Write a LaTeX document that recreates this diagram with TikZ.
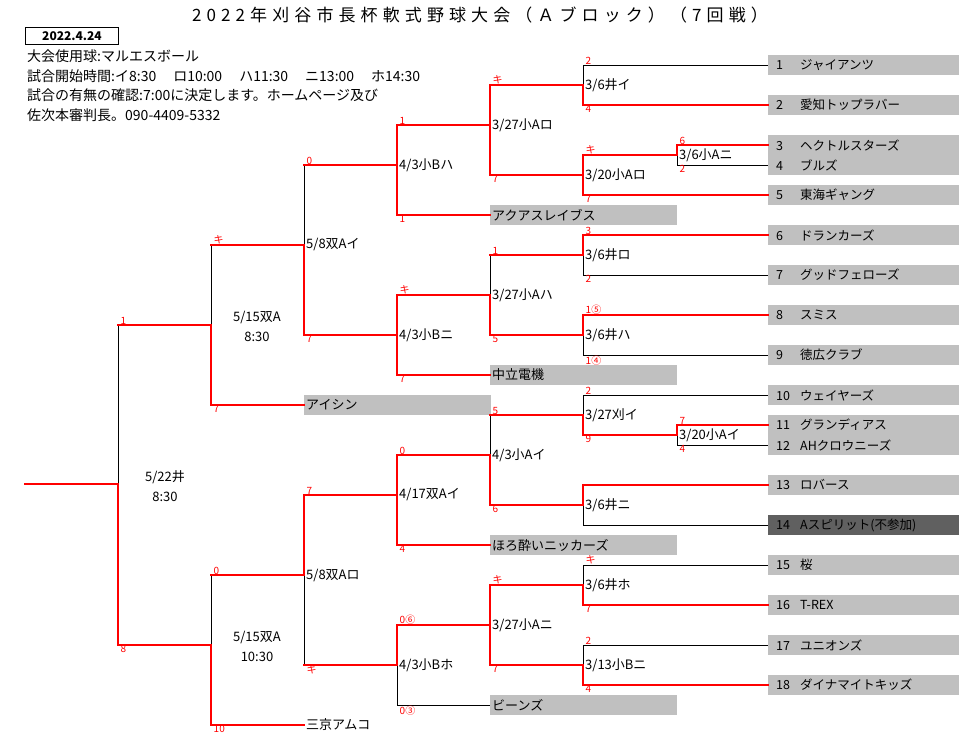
\documentclass[tikz,border=0pt]{standalone}
\usepackage{fontspec}
\setmainfont{Noto Sans CJK JP}
\newfontfamily\titlefont[LetterSpace=30]{Noto Sans CJK JP}
\usepackage{tikz}
\usetikzlibrary{positioning}
\definecolor{boxgray}{RGB}{192,192,192}
\definecolor{boxdark}{RGB}{96,96,96}
\definecolor{winred}{RGB}{255,0,0}
\newcommand{\teamno}[1]{\makebox[24pt][l]{#1}}

\begin{document}
\begin{tikzpicture}[
        x=1pt,y=-1pt,
        win/.style={draw=winred,line width=2pt,line cap=rect},
        lose/.style={draw=black,line width=0.8pt},
        teambox/.style={fill=boxgray,anchor=west,minimum height=20pt,text width=175pt,inner xsep=8pt,inner ysep=0pt,align=left,font=\fontsize{12.5}{14}\selectfont},
        outbox/.style={teambox,fill=boxdark},
        sidebox/.style={fill=boxgray,anchor=west,minimum height=20pt,text width=183pt,inner xsep=2pt,inner ysep=0pt,align=left,font=\fontsize{13}{14}\selectfont},
        game/.style={anchor=west,inner sep=0pt,xshift=2pt,font=\fontsize{13}{14}\selectfont},
        roundlbl/.style={align=center,inner sep=0pt,font=\fontsize{13}{20}\selectfont},
        scoreup/.style={anchor=south west,inner sep=0.5pt,xshift=2pt,text=winred,font=\fontsize{10}{10}\selectfont},
        scoredn/.style={scoreup,anchor=north west},
        info/.style={anchor=west,inner sep=0pt,font=\fontsize{14}{16}\selectfont}
    ]
        \useasboundingbox (0,0) rectangle (959,754);

        % header
        \node[font=\titlefont\fontsize{17}{17}\selectfont] (title) at (480,15) {2022年刈谷市長杯軟式野球大会（Ａブロック）（7回戦）};
        \node[draw,line width=1.6pt,minimum width=93pt,minimum height=17pt,inner sep=0pt,font=\bfseries\fontsize{12}{12}\selectfont] (date) at (72,36) {2022.4.24};
        \node[info] (ball) at (27,56) {大会使用球:マルエスボール};
        \node[info] (times) at (27,76) {試合開始時間:イ8:30\hspace{17pt}ロ10:00\hspace{17pt}ハ11:30\hspace{17pt}ニ13:00\hspace{17pt}ホ14:30};
        \node[info] (check) at (27,95) {試合の有無の確認:7:00に決定します。ホームページ及び};
        \node[info] (judge) at (27,115) {佐次本審判長。090-4409-5332};

        % teams
        \node[teambox] (t1) at (768,65) {\teamno{1}ジャイアンツ};
        \node[teambox] (t2) at (768,105) {\teamno{2}愛知トップラバー};
        \node[teambox] (t3) at (768,145) {\teamno{3}ヘクトルスターズ};
        \node[teambox] (t4) at (768,165) {\teamno{4}ブルズ};
        \node[teambox] (t5) at (768,195) {\teamno{5}東海ギャング};
        \node[teambox] (t6) at (768,235) {\teamno{6}ドランカーズ};
        \node[teambox] (t7) at (768,275) {\teamno{7}グッドフェローズ};
        \node[teambox] (t8) at (768,315) {\teamno{8}スミス};
        \node[teambox] (t9) at (768,355) {\teamno{9}徳広クラブ};
        \node[teambox] (t10) at (768,395) {\teamno{10}ウェイヤーズ};
        \node[teambox] (t11) at (768,425) {\teamno{11}グランディアス};
        \node[teambox] (t12) at (768,445) {\teamno{12}AHクロウニーズ};
        \node[teambox] (t13) at (768,485) {\teamno{13}ロバース};
        \node[outbox] (t14) at (768,525) {\teamno{14}Aスピリット(不参加)};
        \node[teambox] (t15) at (768,565) {\teamno{15}桜};
        \node[teambox] (t16) at (768,605) {\teamno{16}T-REX};
        \node[teambox] (t17) at (768,645) {\teamno{17}ユニオンズ};
        \node[teambox] (t18) at (768,685) {\teamno{18}ダイナマイトキッズ};

        \node[sidebox] (aqua) at (490,215) {アクアスレイブス};
        \node[sidebox] (chuo) at (490,375) {中立電機};
        \node[sidebox] (horo) at (490,545) {ほろ酔いニッカーズ};
        \node[sidebox] (beans) at (490,705) {ビーンズ};
        \node[sidebox] (aisin) at (304,405) {アイシン};
        \node[sidebox,fill=none] (sankyo) at (304,725) {三京アムコ};

        % bracket corners: top, bottom, middle of each game
        \coordinate (r1at) at (677,145); \coordinate (r1ab) at (677,165); \coordinate (r1am) at (677,155);
        \coordinate (r1bt) at (677,425); \coordinate (r1bb) at (677,445); \coordinate (r1bm) at (677,435);
        \coordinate (r2at) at (583,65); \coordinate (r2ab) at (583,105); \coordinate (r2am) at (583,85);
        \coordinate (r2bt) at (583,155); \coordinate (r2bb) at (583,195); \coordinate (r2bm) at (583,175);
        \coordinate (r2ct) at (583,235); \coordinate (r2cb) at (583,275); \coordinate (r2cm) at (583,255);
        \coordinate (r2dt) at (583,315); \coordinate (r2db) at (583,355); \coordinate (r2dm) at (583,335);
        \coordinate (r2et) at (583,395); \coordinate (r2eb) at (583,435); \coordinate (r2em) at (583,415);
        \coordinate (r2ft) at (583,485); \coordinate (r2fb) at (583,525); \coordinate (r2fm) at (583,505);
        \coordinate (r2gt) at (583,565); \coordinate (r2gb) at (583,605); \coordinate (r2gm) at (583,585);
        \coordinate (r2ht) at (583,645); \coordinate (r2hb) at (583,685); \coordinate (r2hm) at (583,665);
        \coordinate (r3at) at (490,85); \coordinate (r3ab) at (490,175); \coordinate (r3am) at (490,125);
        \coordinate (r3bt) at (490,255); \coordinate (r3bb) at (490,335); \coordinate (r3bm) at (490,295);
        \coordinate (r3ct) at (490,415); \coordinate (r3cb) at (490,505); \coordinate (r3cm) at (490,455);
        \coordinate (r3dt) at (490,585); \coordinate (r3db) at (490,665); \coordinate (r3dm) at (490,625);
        \coordinate (r4at) at (397,125); \coordinate (r4ab) at (397,215); \coordinate (r4am) at (397,165);
        \coordinate (r4bt) at (397,295); \coordinate (r4bb) at (397,375); \coordinate (r4bm) at (397,335);
        \coordinate (r4ct) at (397,455); \coordinate (r4cb) at (397,545); \coordinate (r4cm) at (397,495);
        \coordinate (r4dt) at (397,625); \coordinate (r4db) at (397,705); \coordinate (r4dm) at (397,665);
        \coordinate (r5at) at (304,165); \coordinate (r5ab) at (304,335); \coordinate (r5am) at (304,245);
        \coordinate (r5bt) at (304,495); \coordinate (r5bb) at (304,665); \coordinate (r5bm) at (304,575);
        \coordinate (r6at) at (211,245); \coordinate (r6ab) at (211,405); \coordinate (r6am) at (211,325);
        \coordinate (r6bt) at (211,575); \coordinate (r6bb) at (211,725); \coordinate (r6bm) at (211,645);
        \coordinate (fint) at (118,325); \coordinate (finb) at (118,645); \coordinate (finm) at (118,484);
        \coordinate (champ) at (25,484);

        % first round
        \draw[win] (r1am) -- (r1at) -- (t3.west);
        \draw[lose] (r1am) -- (r1ab) -- (t4.west);
        \draw[win] (r1bm) -- (r1bt) -- (t11.west);
        \draw[lose] (r1bm) -- (r1bb) -- (t12.west);

        \draw[lose] (r2am) -- (r2at) -- (t1.west);
        \draw[win] (r2am) -- (r2ab) -- (t2.west);
        \draw[win] (r2bm) -- (r2bt) -- (r1am);
        \draw[win] (r2bm) -- (r2bb) -- (t5.west);
        \draw[win] (r2cm) -- (r2ct) -- (t6.west);
        \draw[lose] (r2cm) -- (r2cb) -- (t7.west);
        \draw[win] (r2dm) -- (r2dt) -- (t8.west);
        \draw[lose] (r2dm) -- (r2db) -- (t9.west);
        \draw[lose] (r2em) -- (r2et) -- (t10.west);
        \draw[win] (r2em) -- (r2eb) -- (r1bm);
        \draw[win] (r2fm) -- (r2ft) -- (t13.west);
        \draw[lose] (r2fm) -- (r2fb) -- (t14.west);
        \draw[lose] (r2gm) -- (r2gt) -- (t15.west);
        \draw[win] (r2gm) -- (r2gb) -- (t16.west);
        \draw[lose] (r2hm) -- (r2ht) -- (t17.west);
        \draw[win] (r2hm) -- (r2hb) -- (t18.west);

        \draw[win] (r3am) -- (r3at) -- (r2am);
        \draw[win] (r3am) -- (r3ab) -- (r2bm);
        \draw[lose] (r3bm) -- (r3bt);
        \draw[win] (r3bt) -- (r2cm);
        \draw[win] (r3bm) -- (r3bb) -- (r2dm);
        \draw[lose] (r3cm) -- (r3ct);
        \draw[win] (r3ct) -- (r2em);
        \draw[win] (r3cm) -- (r3cb) -- (r2fm);
        \draw[win] (r3dm) -- (r3dt) -- (r2gm);
        \draw[win] (r3dm) -- (r3db) -- (r2hm);

        \draw[win] (r4am) -- (r4at) -- (r3am);
        \draw[win] (r4am) -- (r4ab) -- (aqua.west);
        \draw[win] (r4bm) -- (r4bt) -- (r3bm);
        \draw[win] (r4bm) -- (r4bb) -- (chuo.west);
        \draw[win] (r4cm) -- (r4ct) -- (r3cm);
        \draw[win] (r4cm) -- (r4cb) -- (horo.west);
        \draw[win] (r4dm) -- (r4dt) -- (r3dm);
        \draw[lose] (r4dm) -- (r4db) -- (beans.west);

        \draw[lose] (r5am) -- (r5at);
        \draw[win] (r5at) -- (r4am);
        \draw[win] (r5am) -- (r5ab) -- (r4bm);
        \draw[win] (r5bm) -- (r5bt) -- (r4cm);
        \draw[lose] (r5bm) -- (r5bb);
        \draw[win] (r5bb) -- (r4dm);

        \draw[lose] (r6am) -- (r6at);
        \draw[win] (r6at) -- (r5am);
        \draw[win] (r6am) -- (r6ab) -- (aisin.west);
        \draw[lose] (r6bm) -- (r6bt);
        \draw[win] (r6bt) -- (r5bm);
        \draw[win] (r6bm) -- (r6bb) -- (sankyo.west);

        \draw[lose] (finm) -- (fint);
        \draw[win] (fint) -- (r6am);
        \draw[win] (finm) -- (finb) -- (r6bm);
        \draw[win] (champ) -- (finm);

        % game labels
        \node[game] (r1an) at (r1am) {3/6小Aニ};
        \node[game] (r1bn) at (r1bm) {3/20小Aイ};
        \node[game] (r2an) at (r2am) {3/6井イ};
        \node[game] (r2bn) at (r2bm) {3/20小Aロ};
        \node[game] (r2cn) at (r2cm) {3/6井ロ};
        \node[game] (r2dn) at (r2dm) {3/6井ハ};
        \node[game] (r2en) at (r2em) {3/27刈イ};
        \node[game] (r2fn) at (r2fm) {3/6井ニ};
        \node[game] (r2gn) at (r2gm) {3/6井ホ};
        \node[game] (r2hn) at (r2hm) {3/13小Bニ};
        \node[game] (r3an) at (r3am) {3/27小Aロ};
        \node[game] (r3bn) at (r3bm) {3/27小Aハ};
        \node[game] (r3cn) at (r3cm) {4/3小Aイ};
        \node[game] (r3dn) at (r3dm) {3/27小Aニ};
        \node[game] (r4an) at (r4am) {4/3小Bハ};
        \node[game] (r4bn) at (r4bm) {4/3小Bニ};
        \node[game] (r4cn) at (r4cm) {4/17双Aイ};
        \node[game] (r4dn) at (r4dm) {4/3小Bホ};
        \node[game] (r5an) at (r5am) {5/8双Aイ};
        \node[game] (r5bn) at (r5bm) {5/8双Aロ};
        \node[roundlbl] (r6an) at (257,326) {5/15双A\\8:30};
        \node[roundlbl] (r6bn) at (257,646) {5/15双A\\10:30};
        \node[roundlbl] (finn) at (165,486) {5/22井\\8:30};

        % scores
        \node[scoreup] (r1au) at (r1at) {6};
        \node[scoredn] (r1ad) at (r1ab) {2};
        \node[scoreup] (r1bu) at (r1bt) {7};
        \node[scoredn] (r1bd) at (r1bb) {4};
        \node[scoreup] (r2au) at (r2at) {2};
        \node[scoredn] (r2ad) at (r2ab) {4};
        \node[scoreup] (r2bu) at (r2bt) {キ};
        \node[scoredn] (r2bd) at (r2bb) {7};
        \node[scoreup] (r2cu) at (r2ct) {3};
        \node[scoredn] (r2cd) at (r2cb) {2};
        \node[scoreup] (r2du) at (r2dt) {1⑤};
        \node[scoredn] (r2dd) at (r2db) {1④};
        \node[scoreup] (r2eu) at (r2et) {2};
        \node[scoredn] (r2ed) at (r2eb) {9};
        \node[scoreup] (r2gu) at (r2gt) {キ};
        \node[scoredn] (r2gd) at (r2gb) {7};
        \node[scoreup] (r2hu) at (r2ht) {2};
        \node[scoredn] (r2hd) at (r2hb) {4};
        \node[scoreup] (r3au) at (r3at) {キ};
        \node[scoredn] (r3ad) at (r3ab) {7};
        \node[scoreup] (r3bu) at (r3bt) {1};
        \node[scoredn] (r3bd) at (r3bb) {5};
        \node[scoreup] (r3cu) at (r3ct) {5};
        \node[scoredn] (r3cd) at (r3cb) {6};
        \node[scoreup] (r3du) at (r3dt) {キ};
        \node[scoredn] (r3dd) at (r3db) {7};
        \node[scoreup] (r4au) at (r4at) {1};
        \node[scoredn] (r4ad) at (r4ab) {1};
        \node[scoreup] (r4bu) at (r4bt) {キ};
        \node[scoredn] (r4bd) at (r4bb) {7};
        \node[scoreup] (r4cu) at (r4ct) {0};
        \node[scoredn] (r4cd) at (r4cb) {4};
        \node[scoreup] (r4du) at (r4dt) {0⑥};
        \node[scoredn] (r4dd) at (r4db) {0③};
        \node[scoreup] (r5au) at (r5at) {0};
        \node[scoredn] (r5ad) at (r5ab) {7};
        \node[scoreup] (r5bu) at (r5bt) {7};
        \node[scoredn] (r5bd) at (r5bb) {キ};
        \node[scoreup] (r6au) at (r6at) {キ};
        \node[scoredn] (r6ad) at (r6ab) {7};
        \node[scoreup] (r6bu) at (r6bt) {0};
        \node[scoredn] (r6bd) at (r6bb) {10};
        \node[scoreup] (finu) at (fint) {1};
        \node[scoredn] (find) at (finb) {8};
    \end{tikzpicture}
\end{document}
